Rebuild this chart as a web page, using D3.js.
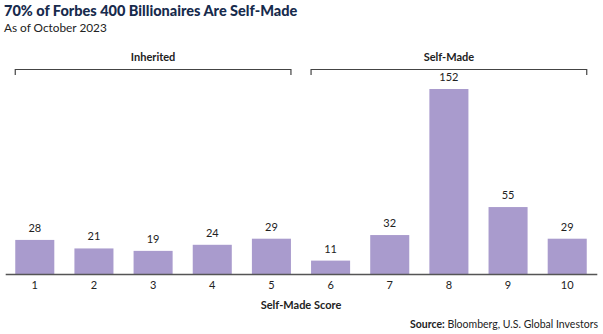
<!DOCTYPE html>
<html><head><meta charset="utf-8">
<script src="https://cdn.jsdelivr.net/npm/d3@7"></script>
<style>body{margin:0;background:#fff;} svg{display:block;font-family:Lato,"Open Sans",sans-serif;}</style>
</head><body><svg id="c" width="603" height="334"></svg>
<script>
const categories = ["1","2","3","4","5","6","7","8","9","10"];
const values = [28,21,19,24,29,11,32,152,55,29];
const groups = [
  {label:"Inherited", from:"1", to:"5"},
  {label:"Self-Made", from:"6", to:"10"}
];
const title = "70% of Forbes 400 Billionaires Are Self-Made";
const subtitle = "As of October 2023";
const xTitle = "Self-Made Score";

const svg = d3.select("#c");
const x = d3.scaleBand().domain(categories).range([5.2,596.8]).paddingInner(0.34).paddingOuter(0.17);
const y = d3.scaleLinear().domain([0,152]).range([274,89]);

svg.append("text").attr("x",4).attr("y",15.5).attr("font-size",14.5).attr("font-weight",900)
  .attr("fill","#172b4d").text(title);
svg.append("text").attr("x",4).attr("y",32).attr("font-size",11.8).attr("fill","#222").text(subtitle);

svg.append("g").selectAll("rect").data(values).join("rect")
  .attr("x",(d,i)=>x(categories[i])).attr("width",x.bandwidth())
  .attr("y",d=>y(d)).attr("height",d=>y(0)-y(d)).attr("fill","#a99bcd");

svg.append("g").selectAll("text").data(values).join("text")
  .attr("x",(d,i)=>x(categories[i])+x.bandwidth()/2).attr("y",d=>y(d)-8)
  .attr("text-anchor","middle").attr("font-size",11).attr("fill","#222").text(d=>d);

const ax = svg.append("g").attr("transform","translate(0,274)")
  .call(d3.axisBottom(x).tickSize(0).tickPadding(7));
ax.select(".domain").attr("stroke","#555").attr("stroke-width",1.6);
ax.selectAll("text").attr("font-size",11).attr("fill","#222").attr("font-family",'Lato,"Open Sans",sans-serif');

svg.append("text").attr("x",301).attr("y",309).attr("text-anchor","middle").attr("font-size",11)
  .attr("font-weight",700).attr("fill","#222").text(xTitle);

const src = svg.append("text").attr("x",598).attr("y",328).attr("text-anchor","end").attr("font-size",10.5).attr("fill","#222");
src.append("tspan").attr("font-weight",700).text("Source:");
src.append("tspan").text(" Bloomberg, U.S. Global Investors");

groups.forEach(g=>{
  const x0 = x(g.from), x1 = x(g.to)+x.bandwidth();
  svg.append("path").attr("d",`M${x0},75V69.5H${x1}V75`).attr("fill","none").attr("stroke","#444").attr("stroke-width",1.2);
  svg.append("text").attr("x",(x0+x1)/2).attr("y",61).attr("text-anchor","middle").attr("font-size",11)
    .attr("font-weight",700).attr("fill","#222").text(g.label);
});
</script></body></html>
